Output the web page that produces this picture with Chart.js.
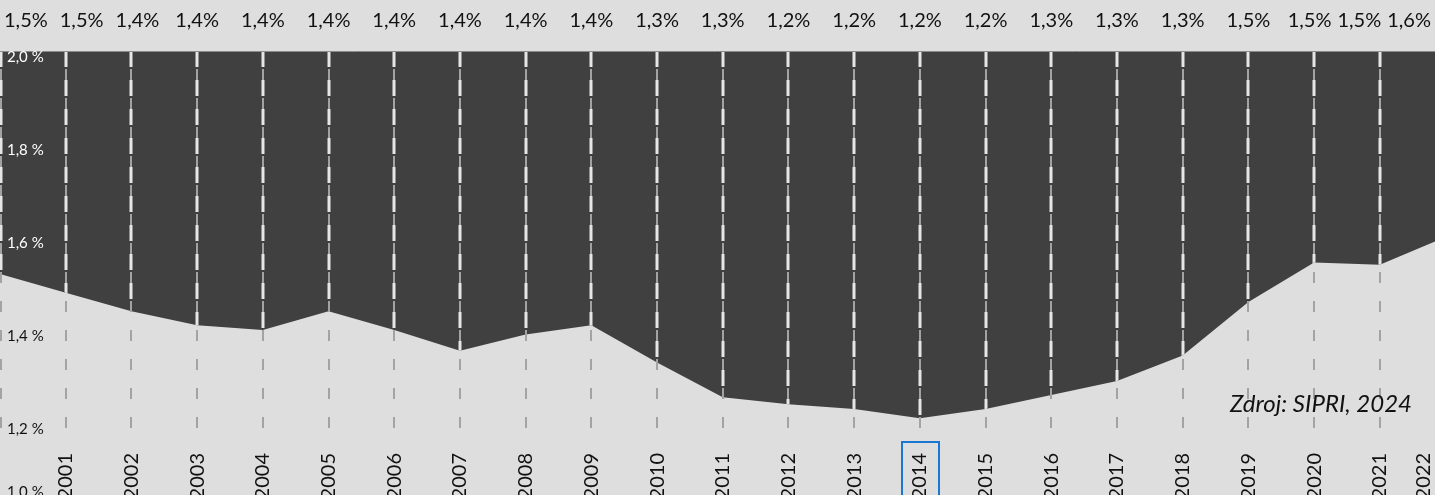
<!DOCTYPE html>
<html>
<head>
<meta charset="utf-8">
<script src="https://cdn.jsdelivr.net/npm/chart.js@4.4.1/dist/chart.umd.min.js"></script>
<style>
  html, body { margin: 0; padding: 0; background: #dedede; overflow: hidden; }
  #wrap { width: 1435px; height: 495px; position: relative; }
  canvas { display: block; }
</style>
</head>
<body>
<div id="wrap"><canvas id="c" width="1435" height="495"></canvas></div>
<script>
// ---- data ----
const years = [2000, 2001, 2002, 2003, 2004, 2005, 2006, 2007, 2008, 2009, 2010, 2011,
               2012, 2013, 2014, 2015, 2016, 2017, 2018, 2019, 2020, 2021, 2022];
const shares = [1.52, 1.48, 1.44, 1.41, 1.40, 1.44, 1.40, 1.355, 1.39, 1.41, 1.33, 1.255,
                1.24, 1.23, 1.21, 1.23, 1.26, 1.29, 1.345, 1.46, 1.545, 1.54, 1.60];
const yearTicks = [2001, 2002, 2003, 2004, 2005, 2006, 2007, 2008, 2009, 2010, 2011,
                   2012, 2013, 2014, 2015, 2016, 2017, 2018, 2019, 2020, 2021, 2022];
const yTicks = [2.0, 1.8, 1.6, 1.4, 1.2, 1.0];
const highlightYear = 2014;
const sourceText = 'Zdroj: SIPRI, 2024';

// ---- styles ----
const DARK = '#404040';
const GRID_GRAY = '#a3a3a3';
const GRID_LIGHT = '#e6e6e6';
const TEXT = '#111111';
const BLUE = '#1b78d2';
const FONT = 'Lato';

const fmtPct = v => v.toFixed(1).replace('.', ',') + '%';

// keep axis labels inside the canvas (as the original does at its edges)
const clampLabels = {
  id: 'clampLabels',
  beforeDraw(chart) {
    const W = chart.width, H = chart.height;
    chart.scales.x.getLabelItems().forEach(it => {
      const t = it.options.translation; t[0] = Math.min(t[0], W - 23);
    });
    chart.scales.y.getLabelItems().forEach(it => {
      const t = it.options.translation; t[1] = Math.min(t[1], H - 3);
    });
  }
};

// vertical dashed year lines: grey dashes everywhere, light dashes over the dark area
const yearLines = {
  id: 'yearLines',
  afterDatasetsDraw(chart) {
    const { ctx, chartArea: { top, bottom, right } } = chart;
    const xs = chart.scales.x;
    const pts = chart.getDatasetMeta(0).data;
    const draw = () => {
      years.forEach(yr => {
        let x = Math.round(xs.getPixelForValue(yr));
        if (x > right + 3) return;
        x = Math.max(x, 1);
        ctx.beginPath(); ctx.moveTo(x, top); ctx.lineTo(x, bottom); ctx.stroke();
      });
    };
    ctx.save();
    ctx.strokeStyle = GRID_GRAY; ctx.lineWidth = 2;
    ctx.setLineDash([11, 18]); ctx.lineDashOffset = 11;
    draw();
    ctx.beginPath();
    ctx.moveTo(pts[0].x, top);
    pts.forEach(p => ctx.lineTo(p.x, p.y));
    ctx.lineTo(pts[pts.length - 1].x, top);
    ctx.closePath();
    ctx.clip();
    ctx.strokeStyle = GRID_LIGHT; ctx.lineWidth = 3;
    ctx.setLineDash([16, 13]); ctx.lineDashOffset = 0;
    draw();
    ctx.restore();
    // thin edge at the top of the plot
    ctx.save();
    ctx.strokeStyle = '#8a8a8a'; ctx.lineWidth = 1;
    ctx.beginPath(); ctx.moveTo(0, top + 0.5); ctx.lineTo(chart.width, top + 0.5); ctx.stroke();
    ctx.restore();
  }
};

// value labels above the plot, source note, highlight box
const annotations = {
  id: 'annotations',
  afterDraw(chart) {
    const { ctx, chartArea: { bottom } } = chart;
    const xs = chart.scales.x;
    const W = chart.width;
    ctx.save();
    ctx.font = '20px ' + FONT;
    ctx.fillStyle = TEXT;
    ctx.textAlign = 'center';
    ctx.textBaseline = 'alphabetic';
    const labels = shares.map(fmtPct);
    const w = labels.map(t => ctx.measureText(t).width);
    const m = 4;
    const c = years.map((yr, i) => Math.min(Math.max(xs.getPixelForValue(yr), m + w[i] / 2), W - m - w[i] / 2));
    for (let i = 1; i < c.length; i++) {
      const minC = c[i - 1] + w[i - 1] / 2 + 12 + w[i] / 2;
      if (c[i] < minC && c[i] < W / 2) c[i] = minC;
    }
    for (let i = c.length - 2; i >= 0; i--) {
      const maxC = c[i + 1] - w[i + 1] / 2 - 6 - w[i] / 2;
      if (c[i] > maxC && c[i] > W / 2) c[i] = maxC;
    }
    labels.forEach((t, i) => ctx.fillText(t, c[i], 27));

    // source note
    ctx.font = 'italic 24px ' + FONT;
    ctx.textAlign = 'right';
    ctx.fillText(sourceText, W - 23, 412);

    // highlight box around a year label
    const hx = xs.getPixelForValue(highlightYear);
    ctx.strokeStyle = BLUE; ctx.lineWidth = 2;
    ctx.strokeRect(Math.round(hx) - 18, bottom + 1, 37, 80);
    ctx.restore();
  }
};

function build() {
  new Chart(document.getElementById('c'), {
    type: 'line',
    data: {
      datasets: [{
        data: years.map((x, i) => ({ x, y: shares[i] })),
        fill: 'end',
        backgroundColor: DARK,
        borderWidth: 0,
        pointRadius: 0,
        tension: 0
      }]
    },
    options: {
      responsive: false,
      animation: false,
      devicePixelRatio: 1,
      layout: { padding: { top: 51, left: 0, right: 0, bottom: 0 }, autoPadding: false },
      plugins: { legend: { display: false }, tooltip: { enabled: false } },
      scales: {
        x: {
          type: 'linear', min: 2000, max: 2021.84, position: 'bottom',
          grid: { display: false, drawTicks: false }, border: { display: false },
          afterBuildTicks: s => { s.ticks = yearTicks.map(v => ({ value: v })); },
          afterFit: s => { s.height = 54; s.paddingLeft = 0; s.paddingRight = 0; },
          ticks: {
            minRotation: 90, maxRotation: 90, autoSkip: false, padding: 12,
            font: { family: FONT, size: 20 }, color: TEXT,
            callback: v => String(v)
          }
        },
        y: {
          type: 'linear', min: 1.161, max: 2.0, position: 'left',
          grid: { display: false, drawTicks: false }, border: { display: false },
          afterBuildTicks: s => { s.ticks = yTicks.map(v => ({ value: v })); },
          afterFit: s => { s.width = 0; s.paddingTop = 0; s.paddingBottom = 0; },
          ticks: {
            z: 1,
            mirror: true, padding: 7, labelOffset: 6, autoSkip: false,
            font: { family: FONT, size: 15 },
            color: c => (c.tick && c.tick.value > 1.5) ? '#ffffff' : TEXT,
            callback: v => v.toFixed(1).replace('.', ',') + ' %'
          }
        }
      }
    },
    plugins: [clampLabels, yearLines, annotations]
  });
}

if (document.fonts && document.fonts.load) {
  Promise.all([
    document.fonts.load('20px Lato'),
    document.fonts.load('italic 24px Lato')
  ]).then(build, build);
} else {
  build();
}
</script>
</body>
</html>
